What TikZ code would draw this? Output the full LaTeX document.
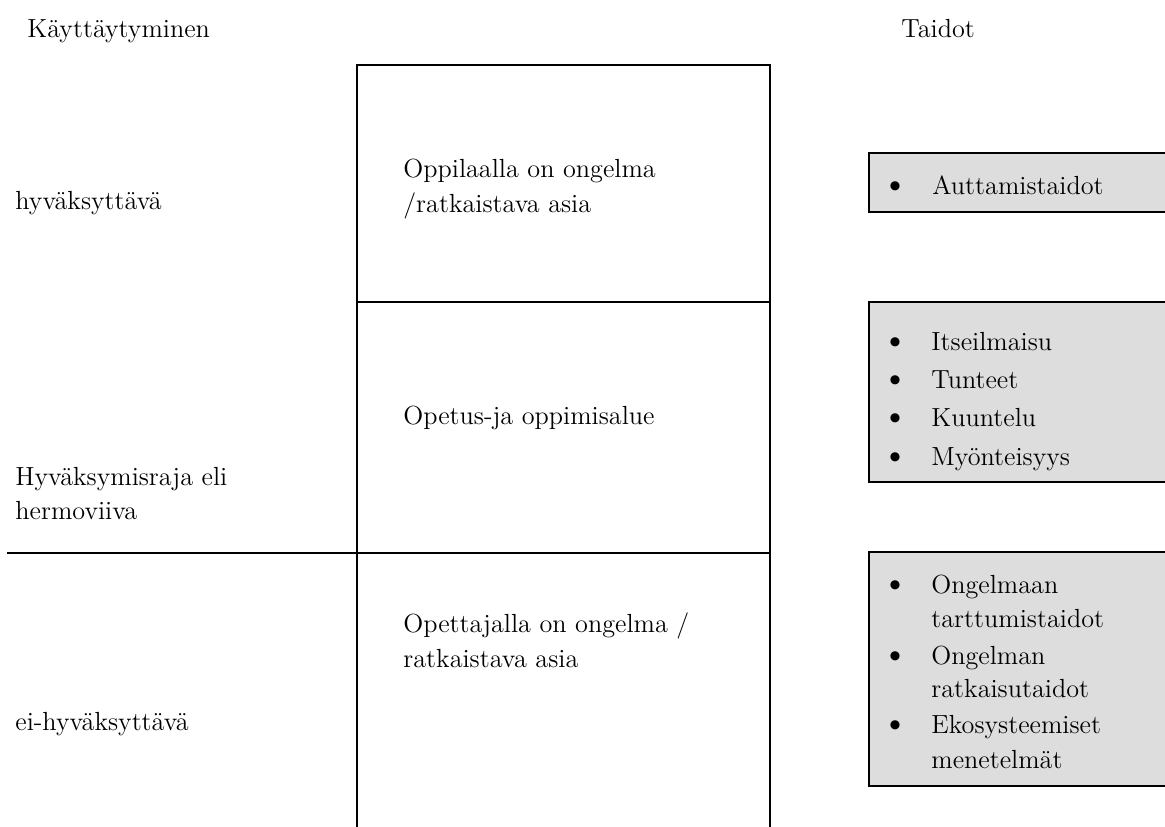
\documentclass[tikz,border=0pt]{standalone}
\usepackage{fontspec}
\definecolor{boxgrey}{HTML}{DDDDDD}
\newcommand{\itemdot}{\scalebox{1.3}{\textbullet}}
\begin{document}
\begin{tikzpicture}[x=0.5pt,y=-0.5pt,
  font=\fontsize{13.1}{17.5}\selectfont,
  rule/.style={line width=1pt},
  txt/.style={anchor=base west, inner sep=0pt},
  dot/.style={anchor=base, inner sep=0pt},
  skillbox/.style={draw, line width=1pt, fill=boxgrey}]
\useasboundingbox (0,0) rectangle (1165,826);
\clip (0,0) rectangle (1165,826);

% central column and dividing lines
\coordinate (colTL) at (357,65);
\coordinate (colTR) at (770,65);
\coordinate (colBL) at (357,840);
\coordinate (colBR) at (770,840);
\coordinate (midL) at (357,302);
\coordinate (midR) at (770,302);
\coordinate (limL) at (7,553);
\coordinate (limR) at (770,553);
\draw[rule] (colBL) -- (colTL) -- (colTR) -- (colBR);
\draw[rule] (midL) -- (midR);
\draw[rule] (limL) -- (limR);

% grey skill boxes
\path[skillbox] (869,153) rectangle (1180,212);
\path[skillbox] (869,302) rectangle (1180,482);
\path[skillbox] (869,552) rectangle (1180,786);

% headings
\node[txt] (hBeh) at (27,37) {Käyttäytyminen};
\node[txt] (hSkill) at (901,37) {Taidot};

% left labels
\node[txt] (acc) at (15,209) {hyväksyttävä};
\node[txt] (lim1) at (15,485) {Hyväksymisraja eli};
\node[txt] (lim2) at (15,519) {hermoviiva};
\node[txt] (nacc) at (15,730) {ei-hyväksyttävä};

% central column texts
\node[txt] (c1a) at (403,177) {Oppilaalla on ongelma};
\node[txt] (c1b) at (403,212) {/ratkaistava asia};
\node[txt] (c2) at (403,424) {Opetus-ja oppimisalue};
\node[txt] (c3a) at (403,632) {Opettajalla on ongelma /};
\node[txt] (c3b) at (403,667) {ratkaistava asia};

% skill lists
\node[dot] (b1) at (895,194) {\itemdot};
\node[txt] (s1) at (932,194) {Auttamistaidot};

\node[dot] (b2) at (895,350) {\itemdot};
\node[txt] (s2) at (931,350) {Itseilmaisu};
\node[dot] (b3) at (895,388) {\itemdot};
\node[txt] (s3) at (931,388) {Tunteet};
\node[dot] (b4) at (895,426) {\itemdot};
\node[txt] (s4) at (931,426) {Kuuntelu};
\node[dot] (b5) at (895,465) {\itemdot};
\node[txt] (s5) at (931,465) {Myönteisyys};

\node[dot] (b6) at (895,593) {\itemdot};
\node[txt] (s6a) at (931,593) {Ongelmaan};
\node[txt] (s6b) at (931,627) {tarttumistaidot};
\node[dot] (b7) at (895,664) {\itemdot};
\node[txt] (s7a) at (931,664) {Ongelman};
\node[txt] (s7b) at (931,697) {ratkaisutaidot};
\node[dot] (b8) at (895,733) {\itemdot};
\node[txt] (s8a) at (931,733) {Ekosysteemiset};
\node[txt] (s8b) at (931,768) {menetelmät};
\end{tikzpicture}
\end{document}
